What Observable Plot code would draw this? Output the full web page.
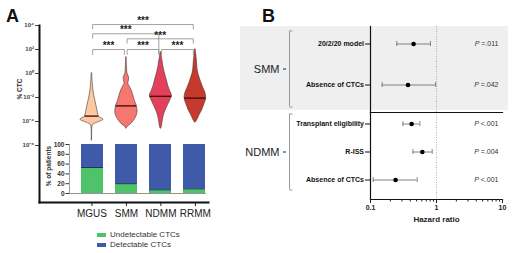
<!DOCTYPE html>
<html><head><meta charset="utf-8">
<script src="https://cdn.jsdelivr.net/npm/d3@7"></script>
<script src="https://cdn.jsdelivr.net/npm/@observablehq/plot@0.6"></script>
<style>
html,body{margin:0;padding:0;background:#fff;}
#chart{position:relative;width:520px;height:253px;overflow:hidden;background:#fff;font-family:"Liberation Sans",Arial,sans-serif;}
.letter{position:absolute;font-weight:bold;font-size:18px;line-height:1;color:#111;}
#smmBg{position:absolute;left:240px;top:26px;width:268px;height:84px;background:#efefef;}
</style></head>
<body>
<div id="chart"><div id="smmBg"></div><div class="letter" style="left:6px;top:7px">A</div><div class="letter" style="left:262px;top:7px">B</div></div>
<script>
// ---------- Panel A data ----------
const stages = ["MGUS", "SMM", "NDMM", "RRMM"];
const stageColors = ["#fdc9a0", "#f5776f", "#e3405c", "#c63a2e"];
const yTickExps = [4, 2, 0, -2, -4, -6];
const medianLog = [-3.55, -2.7, -1.9, -2.05];
// violin profiles: [log10 %CTC, relative density]
const violinMGUS = [[0.0,0.02],[-0.8,0.07],[-1.5,0.14],[-2.2,0.28],[-2.8,0.42],[-3.3,0.52],[-3.6,0.62],[-3.85,1.0],[-4.05,0.6],[-4.25,0.13],[-4.5,0.04],[-5.6,0.02]];
const violinSMM = [[1.33,0.02],[0.5,0.05],[0.0,0.09],[-0.3,0.22],[-0.6,0.22],[-0.85,0.16],[-1.1,0.3],[-1.42,0.46],[-1.8,0.59],[-2.25,0.72],[-2.7,0.9],[-3.3,0.96],[-3.75,0.78],[-4.2,0.43],[-4.45,0.1],[-4.6,0.02]];
const violinNDMM = [[1.75,0.02],[1.1,0.13],[0.5,0.23],[0.0,0.35],[-0.5,0.5],[-1.0,0.63],[-1.42,0.78],[-1.85,0.96],[-2.25,0.81],[-2.8,0.54],[-3.36,0.3],[-3.9,0.17],[-4.45,0.08],[-4.6,0.02]];
const violinRRMM = [[2.0,0.02],[1.1,0.13],[0.25,0.2],[-0.3,0.35],[-0.86,0.55],[-1.28,0.72],[-1.7,0.9],[-2.1,0.94],[-2.53,0.8],[-3.08,0.58],[-3.5,0.35],[-3.92,0.15],[-4.1,0.02]];
// pairwise comparisons
const compFrom = ["MGUS", "SMM", "NDMM", "SMM", "MGUS", "MGUS"];
const compTo = ["SMM", "NDMM", "RRMM", "RRMM", "NDMM", "RRMM"];
const compLabel = ["***", "***", "***", "***", "***", "***"];
const compLevel = [2.0, 2.0, 2.0, 2.89, 3.31, 4.08];
const compArmFrom = [1.58, 1.58, 1.58, 2.53, 2.94, 3.72];
const compArmTo = [1.58, 1.58, 1.58, 2.53, 1.64, 3.72];
// stacked bars (% of patients)
const statuses = ["Undetectable CTCs", "Detectable CTCs"];
const statusColors = ["#4fc36a", "#3f5aa8"];
const undetectable = [53, 20, 7.5, 9.5];
const detectable = [47, 80, 92.5, 90.5];
const barTicks = [0, 20, 40, 60, 80, 100];

// ---------- Panel B data ----------
const groups = ["SMM", "NDMM"];
const smmRows = ["20/2/20 model", "Absence of CTCs"];
const smmHR = [0.45, 0.37];
const smmLo = [0.25, 0.15];
const smmHi = [0.81, 0.97];
const smmP = ["=.011", "=.042"];
const ndmmRows = ["Transplant eligibility", "R-ISS", "Absence of CTCs"];
const ndmmHR = [0.42, 0.61, 0.24];
const ndmmLo = [0.31, 0.44, 0.11];
const ndmmHi = [0.56, 0.86, 0.51];
const ndmmP = ["<.001", "=.004", "<.001"];
const hrMajor = [0.1, 1, 10];
const hrMinor = [0.2, 0.3, 0.4, 0.5, 0.6, 0.7, 0.8, 0.9, 2, 3, 4, 5, 6, 7, 8, 9];

// ---------- build ----------
const W = 520, H = 253;
const FONT = "'Liberation Sans', Arial, sans-serif";
const svgStyle = `position:absolute;left:0;top:0;background:transparent;font-family:${FONT};overflow:visible;`;
const chart = document.getElementById("chart");

const profiles = [violinMGUS, violinSMM, violinNDMM, violinRRMM];
const maxHalf = 0.333;
const violinPts = [];
stages.forEach((s, i) => profiles[i].forEach(([v, d]) =>
  violinPts.push({stage: s, y: 10 ** v, x1: i + 1 - d * maxHalf, x2: i + 1 + d * maxHalf})));
function halfAt(p, v) {
  for (let k = 0; k < p.length - 1; k++) {
    const [a, da] = p[k], [b, db] = p[k + 1];
    if (v <= a && v >= b) return da + (db - da) * (a - v) / (a - b);
  }
  return 0;
}
const medianRows = stages.map((s, i) => {
  const h = halfAt(profiles[i], medianLog[i]) * maxHalf;
  return {stage: s, y: 10 ** medianLog[i], x1: i + 1 - h, x2: i + 1 + h};
});
const bracketPts = [], compRows = [];
compFrom.forEach((f, j) => {
  const xa = stages.indexOf(f) + 1 + 0.02, xb = stages.indexOf(compTo[j]) + 1 - 0.06;
  bracketPts.push({id: j, x: xa, y: 10 ** compArmFrom[j]}, {id: j, x: xa, y: 10 ** compLevel[j]},
                  {id: j, x: xb, y: 10 ** compLevel[j]}, {id: j, x: xb, y: 10 ** compArmTo[j]});
  compRows.push({x: (xa + xb) / 2, y: 10 ** compLevel[j], label: compLabel[j]});
});
const sup = {"-": "\u207B", "0": "\u2070", "1": "\u00B9", "2": "\u00B2", "3": "\u00B3", "4": "\u2074", "5": "\u2075", "6": "\u2076", "7": "\u2077", "8": "\u2078", "9": "\u2079"};
const supFmt = d => "10" + String(Math.round(Math.log10(d))).split("").map(c => sup[c]).join("");

const violin = Plot.plot({
  width: W, height: H, marginLeft: 39, marginTop: 25, marginBottom: 51, marginRight: 312,
  style: svgStyle,
  x: {domain: [-0.52, 4.38]},
  y: {type: "log", domain: [10 ** -10.75, 1e4]},
  color: {domain: stages, range: stageColors},
  marks: [
    Plot.areaX(violinPts, {y: "y", x1: "x1", x2: "x2", z: "stage", fill: "stage", stroke: "#4a3530", strokeWidth: 0.6, curve: "catmull-rom"}),
    Plot.ruleY(medianRows, {y: "y", x1: "x1", x2: "x2", stroke: "#3a0808", strokeWidth: 1.3}),
    Plot.line(bracketPts, {x: "x", y: "y", z: "id", stroke: "#8c8c8c", strokeWidth: 0.8}),
    Plot.text(compRows, {x: "x", y: "y", text: "label", dy: -3.5, fontSize: 10, fontWeight: "bold", fill: "#222"}),
    Plot.axisY({ticks: yTickExps.map(e => 10 ** e), tickFormat: supFmt, tickSize: 4, tickPadding: 1.5, fontSize: 6, fontWeight: "bold", color: "#444", label: null}),
    Plot.axisX({ticks: [1, 2, 3, 4], tickFormat: i => stages[i - 1], tickSize: 4, tickPadding: 3.5, fontSize: 10, color: "#222", label: null}),
    Plot.frame({anchor: "left", stroke: "#111", strokeWidth: 2}),
    Plot.frame({anchor: "bottom", stroke: "#111", strokeWidth: 2}),
    Plot.text(["% CTC"], {frameAnchor: "left", rotate: -90, dx: -19.5, dy: -25, fontSize: 6.5, fontWeight: "bold", fill: "#333", textAnchor: "middle", lineAnchor: "middle"})
  ]
});
chart.appendChild(violin);

const barRows = [];
stages.forEach((s, i) => {
  barRows.push({stage: s, status: statuses[0], value: undetectable[i]});
  barRows.push({stage: s, status: statuses[1], value: detectable[i]});
});
const bars = Plot.plot({
  width: W, height: H, marginLeft: 69, marginTop: 144, marginBottom: 60, marginRight: 314,
  style: svgStyle,
  x: {type: "band", domain: stages, range: [74.25, 212.25], paddingInner: 0.35, paddingOuter: 0.175, axis: null},
  y: {domain: [0, 100]},
  color: {domain: statuses, range: statusColors},
  marks: [
    Plot.barY(barRows, {x: "stage", y: "value", fill: "status"}),
    Plot.tickY(stages.map((s, i) => ({stage: s, v: undetectable[i]})), {x: "stage", y: "v", stroke: "#1b2550", strokeWidth: 0.9}),
    Plot.ruleY([0], {stroke: "#777", strokeWidth: 0.8}),
    Plot.frame({anchor: "left", stroke: "#888", strokeWidth: 0.8}),
    Plot.axisY({ticks: barTicks, tickSize: 3.5, tickPadding: 1.5, fontSize: 6.5, fontWeight: "bold", color: "#333", label: null}),
    Plot.text(["% of patients"], {frameAnchor: "left", rotate: -90, dx: -21, dy: -3, fontSize: 6.5, fontWeight: "bold", fill: "#333", textAnchor: "middle", lineAnchor: "middle"})
  ]
});
chart.appendChild(bars);

const legend = Plot.legend({
  color: {domain: statuses, range: statusColors}, legend: "swatches", columns: 1,
  swatchWidth: 9, swatchHeight: 4,
  style: `position:absolute;left:97px;top:230px;width:150px;margin:0;font-family:${FONT};font-size:8px;color:#333;`
});
chart.appendChild(legend);

// ---------- Panel B ----------
function forestRows(rows, hr, lo, hi, p) {
  return rows.map((r, i) => ({row: r, hr: hr[i], lo: lo[i], hi: hi[i], p: "P " + p[i]}));
}
function forestMarks(data) {
  return [
    Plot.ruleX([1], {stroke: "#999", strokeWidth: 0.8, strokeDasharray: "1,1.5"}),
    Plot.ruleY(data, {y: "row", x1: "lo", x2: "hi", stroke: "#666", strokeWidth: 0.8}),
    Plot.tickX(data, {y: "row", x: "lo", stroke: "#666", strokeWidth: 0.8}),
    Plot.tickX(data, {y: "row", x: "hi", stroke: "#666", strokeWidth: 0.8}),
    Plot.dot(data, {y: "row", x: "hr", r: 2.3, fill: "#000"}),
    Plot.text(data, {y: "row", text: "p", frameAnchor: "right", dx: -4, textAnchor: "end", fontSize: 7, fill: "#333"}),
    Plot.axisY({tickSize: 5, tickPadding: 1.5, fontSize: 7, fontWeight: "bold", color: "#111", label: null}),
    Plot.frame({anchor: "left", stroke: "#111", strokeWidth: 1.2})
  ];
}
function italicP(svg) {
  svg.querySelectorAll("text").forEach(t => {
    const s = t.textContent;
    if (/^P [=<]/.test(s)) {
      t.textContent = "";
      const ts = document.createElementNS("http://www.w3.org/2000/svg", "tspan");
      ts.setAttribute("font-style", "italic");
      ts.textContent = "P";
      t.appendChild(ts);
      t.appendChild(document.createTextNode(s.slice(1)));
    }
  });
  return svg;
}
const smmData = forestRows(smmRows, smmHR, smmLo, smmHi, smmP);
const smmPlot = Plot.plot({
  width: W, height: H, marginLeft: 370, marginRight: 18, marginTop: 26, marginBottom: 141,
  style: svgStyle,
  x: {type: "log", domain: [0.1, 10], axis: null},
  y: {type: "band", domain: smmRows, range: [23.5, 105.5], paddingInner: 0.878, paddingOuter: 0.439},
  marks: forestMarks(smmData)
});
chart.appendChild(italicP(smmPlot));

const ndmmData = forestRows(ndmmRows, ndmmHR, ndmmLo, ndmmHi, ndmmP);
const ndmmPlot = Plot.plot({
  width: W, height: H, marginLeft: 370, marginRight: 18, marginTop: 112, marginBottom: 54,
  style: svgStyle,
  x: {type: "log", domain: [0.1, 10]},
  y: {type: "band", domain: ndmmRows, range: [108.4, 194.3], paddingInner: 0.825, paddingOuter: 0.4125},
  marks: [
    ...forestMarks(ndmmData),
    Plot.frame({anchor: "top", stroke: "#111", strokeWidth: 1.2}),
    Plot.frame({anchor: "bottom", stroke: "#111", strokeWidth: 1.2}),
    Plot.axisX({ticks: hrMajor, tickFormat: d => String(d), tickSize: 4, tickPadding: 2, fontSize: 7, fontWeight: "bold", color: "#222", label: null}),
    Plot.axisX({ticks: hrMinor, tickFormat: () => "", tickSize: 2.5, color: "#222", label: null}),
    Plot.text(["Hazard ratio"], {frameAnchor: "bottom", dy: 20, fontSize: 8, fontWeight: "bold", fill: "#222", textAnchor: "middle", lineAnchor: "middle"})
  ]
});
chart.appendChild(italicP(ndmmPlot));

const gStep = (190 - 30) / (2 - 0.094);
const gBw = gStep * (1 - 0.094);
const groupPlot = Plot.plot({
  width: W, height: H, marginLeft: 286, marginRight: W - 292.5, marginTop: 30, marginBottom: 63,
  style: svgStyle,
  x: {domain: [0, 1], range: [289, 292.5], axis: null},
  y: {type: "band", domain: groups, range: [30, 190], paddingInner: 0.094, paddingOuter: 0},
  marks: [
    Plot.tickX(groups, {x: 0, y: d => d, stroke: "#9a9a9a", strokeWidth: 1}),
    Plot.ruleY(groups, {y: d => d, x1: 0, x2: 1, dy: -gBw / 2, stroke: "#9a9a9a", strokeWidth: 1}),
    Plot.ruleY(groups, {y: d => d, x1: 0, x2: 1, dy: gBw / 2, stroke: "#9a9a9a", strokeWidth: 1}),
    Plot.axisY({tickSize: 3, tickPadding: 4, fontSize: 11, color: "#222", label: null})
  ]
});
chart.appendChild(groupPlot);
</script>
</body></html>
